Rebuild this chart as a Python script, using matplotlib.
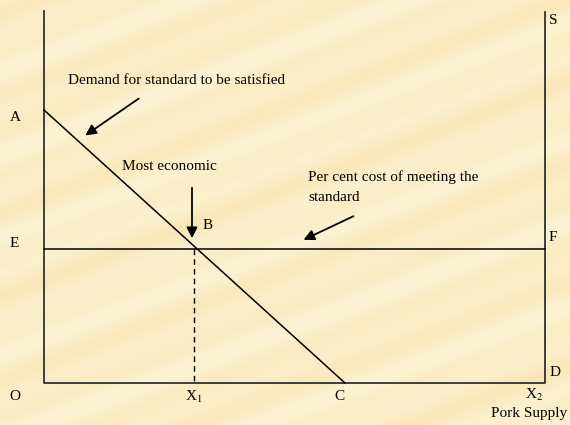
import matplotlib.pyplot as plt
import numpy as np

plt.rcParams['font.family'] = ['Liberation Serif', 'DejaVu Serif']
plt.rcParams['mathtext.fontset'] = 'stix'

# diagram points, in picture coordinates (x right, y down)
axis_x = [44, 44, 545, 545]
axis_y = [11, 383, 383, 12]
demand_x = [44, 345]
demand_y = [110, 383]
cost_x = [44, 545]
cost_y = [249, 249]
x1_x = [194, 194]
x1_y = [249, 383]

labels = ['A', 'E', 'O', 'C', 'D', 'F', 'S', 'B']
label_x = [15, 14, 15, 339, 555, 553, 553, 208]
label_y = [117, 243, 396, 397, 372, 237, 20, 225]

fig = plt.figure(figsize=(5.7, 4.25), dpi=100)
ax = fig.add_axes([0, 0, 1, 1])
ax.set_xlim(0, 570)
ax.set_ylim(425, 0)
ax.axis('off')

# parchment-like background with soft diagonal streaks
xx, yy = np.meshgrid(np.arange(570), np.arange(425))
t = yy + 0.38 * xx
streak = 0.5 + 0.5 * np.sin(t / 9.0) * np.sin(t / 23.0 + 1.3)
base = np.array([253, 243, 212]) / 255.0
dark = np.array([246, 218, 155]) / 255.0
img = base[None, None, :] * (1 - 0.45 * streak[..., None]) + dark[None, None, :] * 0.45 * streak[..., None]
ax.imshow(img, extent=[0, 570, 425, 0], aspect='auto', zorder=0)

ax.plot(axis_x, axis_y, color='#222222', lw=1.2)
ax.plot(demand_x, demand_y, color='black', lw=1.1)
ax.plot(cost_x, cost_y, color='black', lw=1.1)
ax.plot(x1_x, x1_y, color='black', lw=1.0, ls=(0, (4, 3)))

fs = 11
for s, x, y in zip(labels, label_x, label_y):
    ax.text(x, y, s, fontsize=fs, ha='center', va='center')

ax.text(194, 397, r'X$_1$', fontsize=fs, ha='center', va='center')
ax.text(534, 395, r'X$_2$', fontsize=fs, ha='center', va='center')
ax.text(567, 414, 'Pork Supply', fontsize=fs, ha='right', va='center')

arrow = dict(arrowstyle='-|>', color='black', lw=1.3, mutation_scale=16)
ax.annotate('', xy=(83, 137), xytext=(141, 97), arrowprops=arrow)
ax.text(68, 80, 'Demand for standard to be satisfied', fontsize=fs, va='center')
ax.annotate('', xy=(192, 241), xytext=(192, 185), arrowprops=arrow)
ax.text(122, 167, 'Most economic', fontsize=fs, va='center')
ax.annotate('', xy=(301, 241), xytext=(356, 215), arrowprops=arrow)
ax.text(308, 177, 'Per cent cost of meeting the', fontsize=fs, va='center')
ax.text(308, 197, 'standard', fontsize=fs, va='center')

fig.savefig('out.png', dpi=100)
